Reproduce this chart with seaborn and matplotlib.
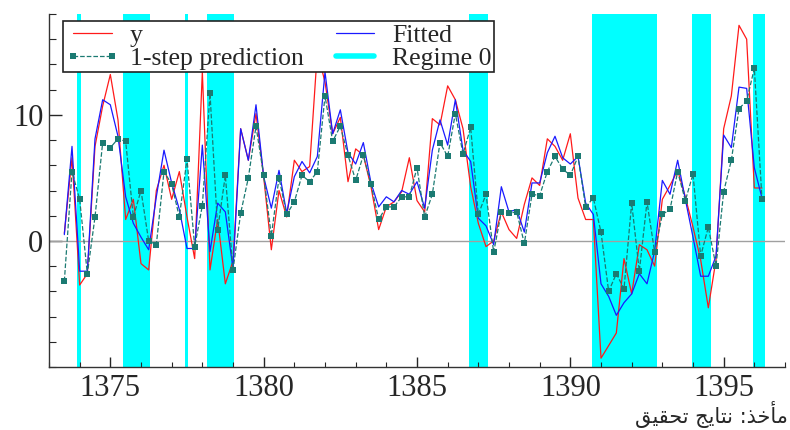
import numpy as np
import pandas as pd
import matplotlib
matplotlib.use("Agg")
import matplotlib.pyplot as plt
from matplotlib.lines import Line2D
from matplotlib.ticker import MultipleLocator, FixedLocator
import seaborn as sns

# quarterly observations, 1373(3) .. 1396(2)
start_year = 1373.5
n_obs = 92
t = start_year + 0.25 * np.arange(n_obs)

y = [0.6, 6.6, -3.5, -2.6, 7.5, 10.7, 13.2, 9.6, 1.7, 3.3,
     -1.8, -2.3, 4.0, 6.0, 3.3, 5.5, 1.9, -1.4, 13.4, -2.3,
     1.7, -3.4, -1.6, 8.9, 6.4, 10.1, 5.1, -0.7, 4.0, 1.9,
     6.4, 5.5, 5.9, 15.0, 12.6, 8.5, 9.8, 4.7, 7.3, 6.8,
     4.3, 0.9, 2.7, 3.1, 3.9, 6.6, 3.2, 2.3, 9.7, 9.2,
     12.3, 11.2, 8.9, 4.3, 1.4, -0.45, 0.0, 2.3, 0.9, 0.2,
     2.9, 5.0, 4.4, 8.1, 7.5, 6.4, 8.5, 3.4, 1.7, 1.7,
     -9.3, -8.3, -7.3, -1.4, -4.2, -0.3, -0.7, -2.0, 3.3, 4.4,
     5.6, 3.5, 1.1, -1.5, -5.3, -1.5, 8.9, 11.5, 17.1, 16.0,
     4.2, 4.2]

fitted = [0.5, 7.5, -2.4, -2.4, 8.1, 11.2, 10.8, 8.3, 3.5, 1.4,
          0.3, -0.7, 3.5, 7.2, 4.6, 2.5, -0.6, -0.6, 7.6, -0.85,
          3.0, 2.3, -2.2, 8.9, 6.4, 10.8, 5.1, 2.6, 5.6, 2.2,
          5.1, 6.3, 5.4, 6.7, 13.4, 8.5, 10.4, 7.0, 6.1, 7.8,
          4.6, 2.7, 3.5, 3.1, 4.0, 3.7, 4.7, 2.6, 7.2, 9.6,
          7.6, 11.2, 7.2, 6.3, 1.8, 1.2, -0.3, 4.3, 2.3, 2.5,
          0.7, 4.6, 4.6, 7.0, 8.3, 6.6, 6.1, 6.7, 3.0, 2.1,
          -3.4, -4.4, -5.9, -4.9, -4.2, -2.6, -3.4, -0.8, 4.8, 3.7,
          6.4, 3.3, 0.3, -2.8, -2.8, -1.2, 8.4, 7.4, 12.2, 12.1,
          5.8, 3.4]

pred = [-3.2, 5.5, 3.3, -2.6, 1.9, 7.8, 7.4, 8.1, 7.9, 1.9,
        4.0, 0.0, -0.3, 5.5, 4.5, 1.9, 6.5, -0.45, 2.8, 11.7,
        0.9, 5.2, -2.3, 2.2, 5.0, 9.1, 5.2, 0.4, 5.0, 2.1,
        3.1, 5.2, 4.7, 5.5, 11.5, 7.9, 9.1, 6.8, 4.8, 6.8,
        4.5, 1.7, 2.7, 2.7, 3.5, 3.5, 5.8, 1.9, 3.7, 7.8,
        6.7, 10.1, 6.9, 9.0, 2.1, 3.7, -0.9, 2.3, 2.2, 2.3,
        -0.2, 3.7, 3.6, 5.5, 6.7, 5.7, 5.2, 6.7, 2.7, 3.4,
        0.7, -4.0, -2.6, -3.8, 3.0, -2.4, 3.1, -0.9, 2.1, 2.5,
        5.5, 3.2, 5.3, -1.2, 1.1, -2.0, 3.9, 6.4, 10.5, 11.1,
        13.7, 3.3]

# shaded periods (Regime 0)
regime0_start = [1373.90, 1375.41, 1377.43, 1378.15, 1386.71, 1390.71, 1393.96, 1395.97]
regime0_end = [1374.04, 1376.29, 1377.53, 1379.02, 1387.32, 1392.84, 1394.59, 1396.35]

df = pd.DataFrame({"t": t, "y": y, "fitted": fitted, "pred": pred})

sns.set_style("white")
plt.rcParams["font.family"] = ["Liberation Serif", "DejaVu Serif"]

fig = plt.figure(figsize=(7.9, 4.3), dpi=100)
ax = fig.add_axes([49 / 790, 63 / 430, 736 / 790, 353 / 430])

cyan = "#00ffff"
for s, e in zip(regime0_start, regime0_end):
    ax.axvspan(s, e, color=cyan, lw=0, zorder=0)

ax.axhline(0, color="#a0a0a0", lw=1, zorder=1)

sns.lineplot(data=df, x="t", y="y", color="#ff1a1a", lw=0.9, ax=ax, label="y", zorder=3)
sns.lineplot(data=df, x="t", y="pred", color="#1b7a72", lw=0.9, ls="--", marker="s",
             markersize=4.5, markeredgewidth=0, ax=ax, label="1-step prediction", zorder=4)
sns.lineplot(data=df, x="t", y="fitted", color="#1a1aff", lw=0.9, ax=ax, label="Fitted", zorder=3)

ax.set_xlim(1373, 1397)
ax.set_ylim(-10, 18)
ax.set_xlabel("")
ax.set_ylabel("")

ax.xaxis.set_major_locator(FixedLocator([1375, 1380, 1385, 1390, 1395]))
ax.xaxis.set_minor_locator(MultipleLocator(1))
ax.yaxis.set_major_locator(FixedLocator([0, 10]))
ax.yaxis.set_minor_locator(MultipleLocator(2))

ax.tick_params(axis="x", which="major", direction="in", length=7, width=1, pad=5, labelsize=22)
ax.tick_params(axis="x", which="minor", direction="in", length=3.6, width=0.8)
ax.tick_params(axis="y", which="major", direction="in", length=9.5, width=1, pad=4, labelsize=22)
ax.tick_params(axis="y", which="minor", direction="in", length=5, width=0.8)
ax.tick_params(bottom=True, left=True, which="both")

for side in ["top", "right"]:
    ax.spines[side].set_visible(False)
for side in ["left", "bottom"]:
    ax.spines[side].set_color("#333333")
    ax.spines[side].set_linewidth(1)

h, l = ax.get_legend_handles_labels()
handles = [h[0], h[1], h[2], Line2D([], [], color=cyan, lw=4)]
labels = ["y", "1-step prediction", "Fitted", "Regime 0"]
leg = ax.legend(handles, labels, ncol=2, loc="upper left", bbox_to_anchor=(14 / 736, 1 - 7 / 353),
                fontsize=18.5, frameon=True, fancybox=False, framealpha=1, edgecolor="#222222",
                handlelength=2.1, handletextpad=0.4, columnspacing=0.95, labelspacing=0.0,
                borderpad=0.1, borderaxespad=0, numpoints=2)
leg.get_frame().set_linewidth(1.2)
leg.set_zorder(10)

# source note (Persian, shaped glyphs in visual order)
note = "\ufed6\ufbff\ufed8\ufea4\ufe97 \ufe9e\ufbfe\ufe8e\ufe98\ufee7 :\ufeac\ufea7\ufe84\ufee3"
fig.text(0.997, 0.035, note, ha="right", va="center", fontsize=15, family=["DejaVu Sans"])

fig.savefig("out.png", dpi=100)
